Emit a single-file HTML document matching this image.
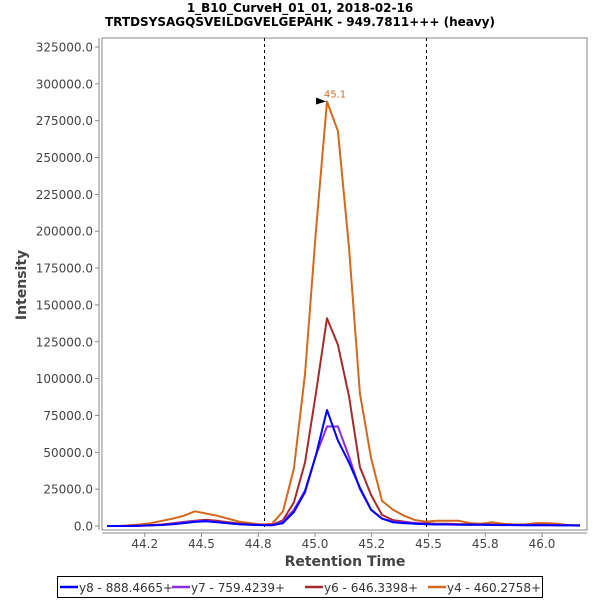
<!DOCTYPE html>
<html><head><meta charset="utf-8"><style>
body{margin:0;background:#fff;}
svg text{font-family:"DejaVu Sans","Liberation Sans",sans-serif;}
</style></head><body>
<svg id="chart" width="600" height="600" xmlns="http://www.w3.org/2000/svg">
<rect width="600" height="600" fill="#fff"/>
<text x="300" y="12" text-anchor="middle" font-size="12" font-weight="bold" fill="#000">1_B10_CurveH_01_01, 2018-02-16</text>
<text x="300" y="26" text-anchor="middle" font-size="12" font-weight="bold" fill="#000">TRTDSYSAGQSVEILDGVELGEPAHK - 949.7811+++ (heavy)</text>
<rect x="102" y="38" width="485" height="492" fill="#fff" stroke="#888"/>
<line x1="99" y1="38" x2="99" y2="530" stroke="#888"/>
<line x1="102" y1="533" x2="587" y2="533" stroke="#888"/>
<g id="yticks"></g><g id="xticks"></g>
<line x1="264.5" y1="38" x2="264.5" y2="530" stroke="#000" stroke-dasharray="3,3"/>
<line x1="426.5" y1="38" x2="426.5" y2="530" stroke="#000" stroke-dasharray="3,3"/>
<g id="series"></g>
<text x="26" y="285" transform="rotate(-90 26 285)" text-anchor="middle" font-size="14" font-weight="bold" fill="#444">Intensity</text>
<text x="345" y="566" text-anchor="middle" font-size="14" font-weight="bold" fill="#444">Retention Time</text>
<rect x="57.5" y="576.5" width="485" height="21" fill="#fff" stroke="#000"/>
<g id="legend"></g>
</svg>
<script>
const times=[44.084,44.132,44.181,44.229,44.278,44.326,44.374,44.423,44.471,44.520,44.568,44.617,44.665,44.714,44.762,44.811,44.859,44.907,44.956,45.004,45.053,45.101,45.150,45.198,45.247,45.295,45.344,45.392,45.441,45.489,45.537,45.586,45.634,45.683,45.731,45.780,45.828,45.877,45.925,45.974,46.022,46.070,46.119,46.167];
const y8=[0,0,0,200,400,700,1200,2000,2800,3200,2500,1800,1200,800,600,500,2000,9500,23000,48000,78700,58000,43000,26000,11000,5000,2500,2000,1500,1200,1000,1000,900,800,800,700,600,600,500,500,500,400,400,300];
const y7=[0,0,0,200,500,900,1500,2500,3300,3500,2800,2000,1300,900,700,600,3000,11000,24000,48000,67500,67500,47000,25000,11000,5000,3000,2500,2000,1500,1200,1100,1000,900,900,800,700,700,600,600,600,500,500,400];
const y6=[0,0,0,300,600,1000,1800,2800,3600,4200,3500,2500,1700,1100,800,700,4000,16000,43000,90000,141000,123000,88000,40000,21000,7500,4000,3000,2000,1800,1500,1500,1300,1200,1100,1000,900,900,800,800,800,700,600,500];
const y4=[0,0,500,1000,2000,3500,5000,7000,10000,8500,7000,5000,3000,2000,1000,1500,10000,39000,103000,200000,288000,268000,189000,90000,46000,17000,11000,7000,4000,3000,3500,3500,3500,2000,1500,2500,1500,1000,1000,2000,2000,1500,500,500];
const seriesNames=["y8 - 888.4665+","y7 - 759.4239+","y6 - 646.3398+","y4 - 460.2758+"];
const seriesColors=["#0000ff","#8a2be2","#a52a2a","#d2691e"];
const yTicks=[0,25000,50000,75000,100000,125000,150000,175000,200000,225000,250000,275000,300000,325000];
const xTicks=[44.25,44.5,44.75,45.0,45.25,45.5,45.75,46.0];
const xTickLabels=["44.2","44.5","44.8","45.0","45.2","45.5","45.8","46.0"];
const peakLabel="45.1";
const NS="http://www.w3.org/2000/svg";
function X(t){return 315+(t-45)*227;}
function Y(v){return 526-v*479/325000;}
function mk(tag,attrs,parent){const e=document.createElementNS(NS,tag);for(const k in attrs)e.setAttribute(k,attrs[k]);parent.appendChild(e);return e;}
const yg=document.getElementById('yticks');
yTicks.forEach(v=>{
 const l=mk('line',{x1:95,x2:99,y1:Y(v),y2:Y(v),stroke:'#888'},yg);
 
 
 const t=mk('text',{x:93,y:Y(v)+4.5,'text-anchor':'end','font-size':12,fill:'#444'},yg);
 t.textContent=v.toFixed(1);
 
 
});
const xg=document.getElementById('xticks');
xTicks.forEach((v,i)=>{
 const l=mk('line',{x1:X(v),x2:X(v),y1:533,y2:537,stroke:'#888'},xg);
 
 
 const t=mk('text',{x:X(v),y:548,'text-anchor':'middle','font-size':12,fill:'#444'},xg);
 t.textContent=xTickLabels[i];
 
 
});
const sg=document.getElementById('series');
const allSeries=[y8,y7,y6,y4];
[3,2,1,0].forEach(si=>{
 const vals=allSeries[si];
 const pts=vals.map((v,i)=>X(times[i]).toFixed(1)+','+Y(v).toFixed(1)).join(' ');
 const p=mk('polyline',{points:pts,fill:'none',stroke:seriesColors[si],'stroke-width':2,'stroke-linejoin':'round'},sg);
 
 
});
let pi=0;y4.forEach((v,i)=>{if(v>y4[pi])pi=i;});
const px=X(times[pi]),py=Y(y4[pi]);
const ar=mk('polygon',{points:(px-11)+','+(py-4)+' '+(px-1)+','+py+' '+(px-11)+','+(py+3)},sg);


const pt=mk('text',{x:px+8,y:py-4,'text-anchor':'middle','font-size':10,fill:'#d2691e'},sg);
pt.textContent=peakLabel;


const lg=document.getElementById('legend');
const lx=[60,172,305,428];
seriesNames.forEach((n,i)=>{
 const l=mk('line',{x1:lx[i],x2:lx[i]+18,y1:587,y2:587,stroke:seriesColors[i],'stroke-width':2.5},lg);
 
 
 const t=mk('text',{x:lx[i]+19,y:592,'font-size':12,fill:'#333'},lg);
 t.textContent=n;
 
 
});
</script>
</body></html>
